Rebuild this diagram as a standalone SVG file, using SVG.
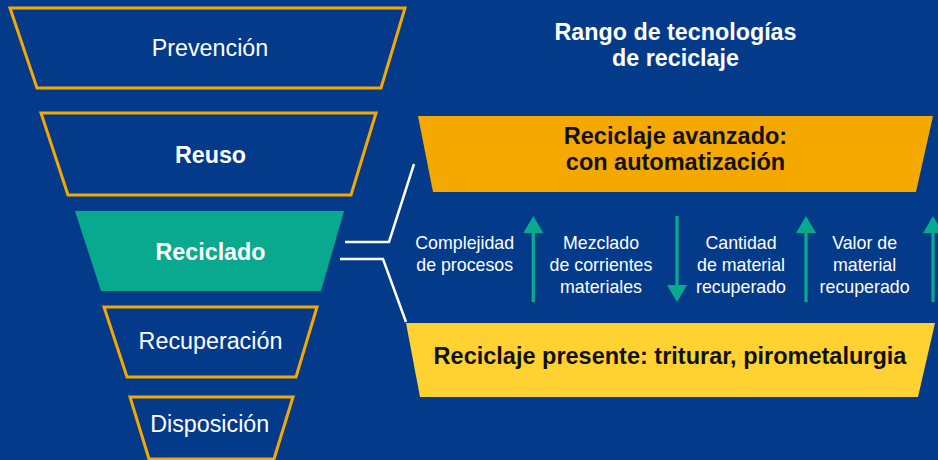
<svg xmlns="http://www.w3.org/2000/svg" width="938" height="460" viewBox="0 0 938 460">
<style>
.bg{fill:#033a8a}
.tier{fill:#033a8a;stroke:#f5a800;stroke-width:3;stroke-linejoin:miter}
.big{font-family:"Liberation Sans",Arial,Helvetica,sans-serif;font-size:23.3px;fill:#ffffff;text-anchor:middle}
.bold{font-weight:bold}
.small{font-family:"Liberation Sans",Arial,Helvetica,sans-serif;font-size:17.8px;fill:#ffffff;text-anchor:middle}
.dark{font-family:"Liberation Sans",Arial,Helvetica,sans-serif;font-size:23.5px;font-weight:bold;fill:#111111;text-anchor:middle}
.conn{fill:none;stroke:#ffffff;stroke-width:2.5}
.shaft{stroke:#09a98d;stroke-width:3.3}
.head{fill:#09a98d}
</style>
<rect class="bg" x="0" y="0" width="938" height="460"/>

<g id="prevencion">
<polygon class="tier" points="10,8 405,8 381,88 37,88"/>
<text class="big" x="210" y="56">Prevención</text>
</g>
<g id="reuso">
<polygon class="tier" points="41,113 376,113 351,195 68,195"/>
<text class="big bold" x="210.5" y="163">Reuso</text>
</g>
<g id="reciclado">
<polygon points="75,211 344,211 321,291 101,291" fill="#08a98f"/>
<text class="big bold" x="210.5" y="259.5">Reciclado</text>
</g>
<g id="recuperacion">
<polygon class="tier" points="104,307 317,307 296,377 127,377"/>
<text class="big" x="210.5" y="349">Recuperación</text>
</g>
<g id="disposicion">
<polygon class="tier" points="130,397 293,397 274,459 149,459"/>
<text class="big" x="209.7" y="431.5">Disposición</text>
</g>

<g id="title">
<text class="big bold" x="675.5" y="39.5">Rango de tecnologías</text>
<text class="big bold" x="675.5" y="66">de reciclaje</text>
</g>

<g id="avanzado">
<polygon points="418,116 933,116 916,192 433,192" fill="#f5a800"/>
<text class="dark" x="675.5" y="143.5">Reciclaje avanzado:</text>
<text class="dark" x="675.5" y="170">con automatización</text>
</g>

<g id="presente">
<polygon points="406,323 935,323 918,397 420,397" fill="#ffd231"/>
<text class="dark" x="670" y="364">Reciclaje presente: triturar, pirometalurgia</text>
</g>

<g id="complejidad">
<text class="small" x="464.7" y="249">Complejidad</text>
<text class="small" x="464.7" y="271">de procesos</text>
</g>
<g id="mezclado">
<text class="small" x="601" y="249">Mezclado</text>
<text class="small" x="601" y="271">de corrientes</text>
<text class="small" x="601" y="292.5">materiales</text>
</g>
<g id="cantidad">
<text class="small" x="741" y="249">Cantidad</text>
<text class="small" x="741" y="271">de material</text>
<text class="small" x="741" y="292.5">recuperado</text>
</g>
<g id="valor">
<text class="small" x="864.6" y="249">Valor de</text>
<text class="small" x="864.6" y="271">material</text>
<text class="small" x="864.6" y="292.5">recuperado</text>
</g>

<g id="connectors">
<polyline class="conn" points="345,242 389,242 414,164"/>
<polyline class="conn" points="340,259 383,259 406,322"/>
<line class="shaft" x1="533.3" y1="230" x2="533.3" y2="302"/>
<polygon class="head" points="533.3,216 543.3,233 523.3,233"/>
<line class="shaft" x1="677" y1="216" x2="677" y2="288"/>
<polygon class="head" points="677,302 687,285 667,285"/>
<line class="shaft" x1="806" y1="230" x2="806" y2="302"/>
<polygon class="head" points="806,216 816,233 796,233"/>
<line class="shaft" x1="933" y1="230" x2="933" y2="302"/>
<polygon class="head" points="933,216 943,233 923,233"/>
</g>
</svg>
